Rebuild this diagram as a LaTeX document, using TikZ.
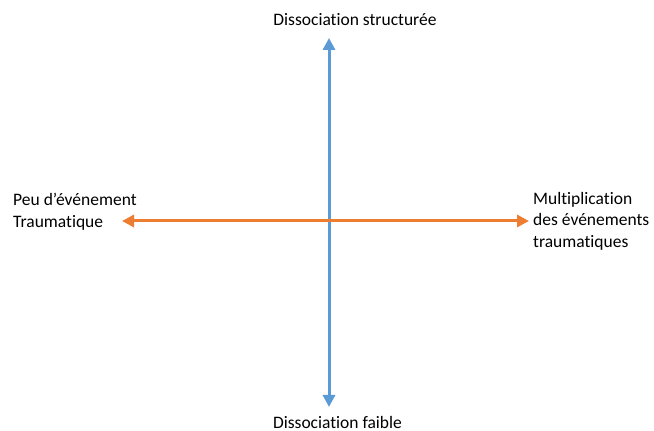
\documentclass[tikz,border=0pt]{standalone}
\usepackage{fontspec}
\setmainfont{Carlito}[Ligatures=NoCommon]
\usetikzlibrary{arrows.meta}
\definecolor{axblue}{HTML}{5B9BD5}
\definecolor{axorange}{HTML}{ED7D31}
\tikzset{
  lbl/.style={font=\fontsize{17.5}{21.5}\selectfont, inner sep=0pt, align=left},
  axis/.style={line width=3pt, {Triangle[length=12pt,width=12pt]}-{Triangle[length=12pt,width=12pt]}}
}
\begin{document}
\begin{tikzpicture}[x=1pt,y=1pt]
\useasboundingbox (0,0) rectangle (654,431);
\fill[white] (0,0) rectangle (654,431);
\node[lbl] (top) at (355,411) {Dissociation structurée};
\node[lbl] (bot) at (337.5,9) {Dissociation faible};
\node[lbl, anchor=west] (left) at (13,219.5) {Peu d’événement\\Traumatique};
\node[lbl, anchor=west] (right) at (533,210) {Multiplication\\des événements\\traumatiques};
\coordinate (vt) at (329,393);
\coordinate (vb) at (329,24);
\coordinate (hl) at (122,210);
\coordinate (hr) at (529,210);
\draw[axis, axblue] (vb) -- (vt);
\draw[axis, axorange] (hl) -- (hr);
\end{tikzpicture}
\end{document}
